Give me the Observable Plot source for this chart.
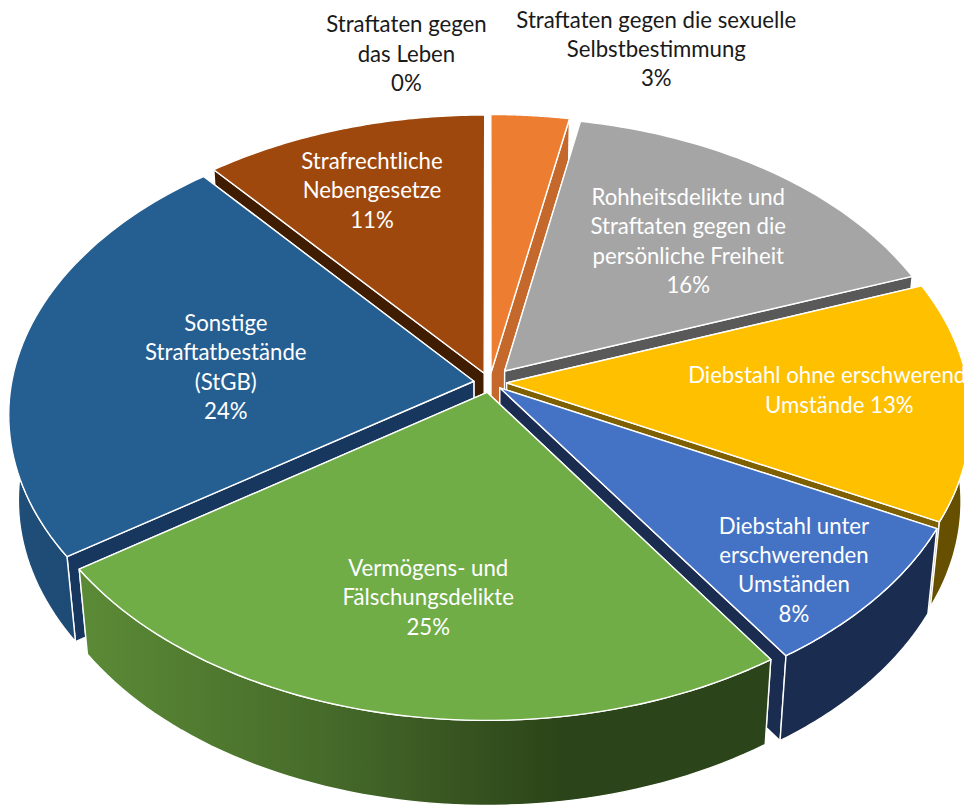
<!DOCTYPE html>
<html lang="de">
<head>
<meta charset="utf-8">
<title>Straftaten</title>
<script src="https://cdn.jsdelivr.net/npm/d3@7"></script>
<script src="https://cdn.jsdelivr.net/npm/@observablehq/plot@0.6"></script>
<style>
html,body{margin:0;padding:0;background:#fff;overflow:hidden;width:964px;height:805px}
</style>
</head>
<body>
<div id="chart"></div>
<script>
// ---- Data ----
const categories = [
  "Straftaten gegen\ndas Leben",
  "Straftaten gegen die sexuelle\nSelbstbestimmung",
  "Rohheitsdelikte und\nStraftaten gegen die\npersönliche Freiheit",
  "Diebstahl ohne erschwerenden\nUmstände",
  "Diebstahl unter\nerschwerenden\nUmständen",
  "Vermögens- und\nFälschungsdelikte",
  "Sonstige\nStraftatbestände\n(StGB)",
  "Strafrechtliche\nNebengesetze"
];
const shares = [0, 3, 16, 13, 8, 25, 24, 11];

// ---- Styles ----
const topColors   = ["#c00000", "#ed7d31", "#a5a5a5", "#ffc000", "#4472c4", "#70ad47", "#255e91", "#9e480e"];
const wallColors  = ["#600000", "#c5682b", "#595959", "#7f6000", "#1a2c50", "#2c4419", "#17375e", "#401c00"];
const outerColors = ["#600000", "#c5682b", "#595959", "#665000", "#1a2c50", "url(#greenWall)", "url(#blueWall)", "#401c00"];
const labelSeparators = ["\n", "\n", "\n", " ", "\n", "\n", "\n", "\n"];
const labelColors = ["#1a1a1a", "#1a1a1a", "#fff", "#fff", "#fff", "#fff", "#fff", "#fff"];

// ---- Layout: label placement in polar form on the pie's plane ----
const labelRadius = [1.272, 1.339, 0.665, 0.730, 0.834, 0.675, 0.557, 0.741];
const labelAngle  = [351, 17.4, 41.4, 92.1, 134.6, 190.1, 275.1, 339];
const paintOrder  = [7, 0, 1, 2, 6, 3, 4, 5];
const explosion   = [0.033, 0.033, 0.05, 0.036, 0.028, 0.033, 0.033, 0.033];

// ---- Pie geometry ----
const W = 964, H = 805;
const cx = 489, cy = 382, Rx = 478, Ry = 299, persp = 0.1155, depth = 85, shrink = 0.02;
const rad = d => d * Math.PI / 180;
const warp = a => a + 1.1 * (1 - Math.cos(rad(a))) + 0.5 * Math.sin(rad(a));
function project(u, v, z) {
  const k = 1 - persp * v;
  return { px: cx + (u * Rx / k) * (1 - shrink * z), py: cy + v * Ry / k + depth * z };
}
const total = d3.sum(shares);
const cumul = d3.cumsum(shares);
const slices = shares.map((s, i) => {
  const a1 = cumul[i] / total * 360, a0 = a1 - s / total * 360, mid = (a0 + a1) / 2, e = explosion[i];
  const ax = e * Math.sin(rad(mid)), ay = -e * Math.cos(rad(mid));
  const rim = a => {
    const w = warp(a);
    return [ax + (1 - e) * Math.sin(rad(w)), ay - (1 - e) * Math.cos(rad(w))];
  };
  const arc = d3.range(0, 61).map(t => rim(a0 + (a1 - a0) * t / 60));
  return { i, a0, a1, ax, ay, rim, arc };
});

function closed(points) { return [...points, points[0]]; }
const polyOpts = fill => ({ x: "px", y: "py", fill, stroke: "#fff", strokeWidth: 1.4, strokeLinejoin: "round", curve: "linear" });

const sliceMarks = paintOrder.flatMap(k => {
  const s = slices[k];
  if (shares[k] === 0) return [];
  const apex = [s.ax, s.ay];
  const radial = p => closed([project(...apex, 0), project(...p, 0), project(...p, 1), project(...apex, 1)]);
  // the radial wall further from the viewer is painted first
  const ends = d3.sort([s.arc[0], s.arc[60]], p => p[1]);
  // only the part of the rim that faces the viewer has a visible outer wall
  const front = s.arc.filter(p => p[1] > 0);
  const outer = front.length < 2 ? [] : [Plot.line(
    closed([...front.map(p => project(...p, 0)), ...front.slice().reverse().map(p => project(...p, 1))]),
    polyOpts(outerColors[k]))];
  const top = closed([project(...apex, 0), ...s.arc.map(p => project(...p, 0))]);
  return [
    ...ends.map(p => Plot.line(radial(p), polyOpts(wallColors[k]))),
    ...outer,
    Plot.line(top, polyOpts(topColors[k]))
  ];
});

const labels = categories.map((c, i) => {
  const p = project(labelRadius[i] * Math.sin(rad(labelAngle[i])), -labelRadius[i] * Math.cos(rad(labelAngle[i])), 0);
  return { ...p, text: `${c}${labelSeparators[i]}${shares[i]}%`, color: labelColors[i] };
});

function gradients() {
  const defs = d3.create("svg:defs");
  const add = (id, x1, x2, stops) => {
    const g = defs.append("linearGradient").attr("id", id).attr("gradientUnits", "userSpaceOnUse")
      .attr("x1", x1).attr("x2", x2).attr("y1", 0).attr("y2", 0);
    stops.forEach(([o, c]) => g.append("stop").attr("offset", o).attr("stop-color", c));
  };
  add("greenWall", 85, 560, [[0, "#5b8a36"], [0.5, "#466b2a"], [1, "#2c4419"]]);
  add("blueWall", 10, 90, [[0, "#1f4e79"], [1, "#1c4a74"]]);
  return defs.node();
}

const chart = Plot.plot({
  width: W, height: H,
  margin: 0,
  x: { domain: [0, W], range: [0, W], axis: null },
  y: { domain: [0, H], range: [0, H], axis: null },
  style: { fontFamily: "Lato, Carlito, sans-serif", background: "#fff" },
  marks: [
    gradients,
    ...sliceMarks,
    Plot.text(labels, {
      x: "px", y: "py", text: "text", fill: "color", dy: -2,
      fontSize: 22.2, lineHeight: 1.325, lineAnchor: "middle", textAnchor: "middle"
    })
  ]
});
document.getElementById("chart").appendChild(chart);
</script>
</body>
</html>
